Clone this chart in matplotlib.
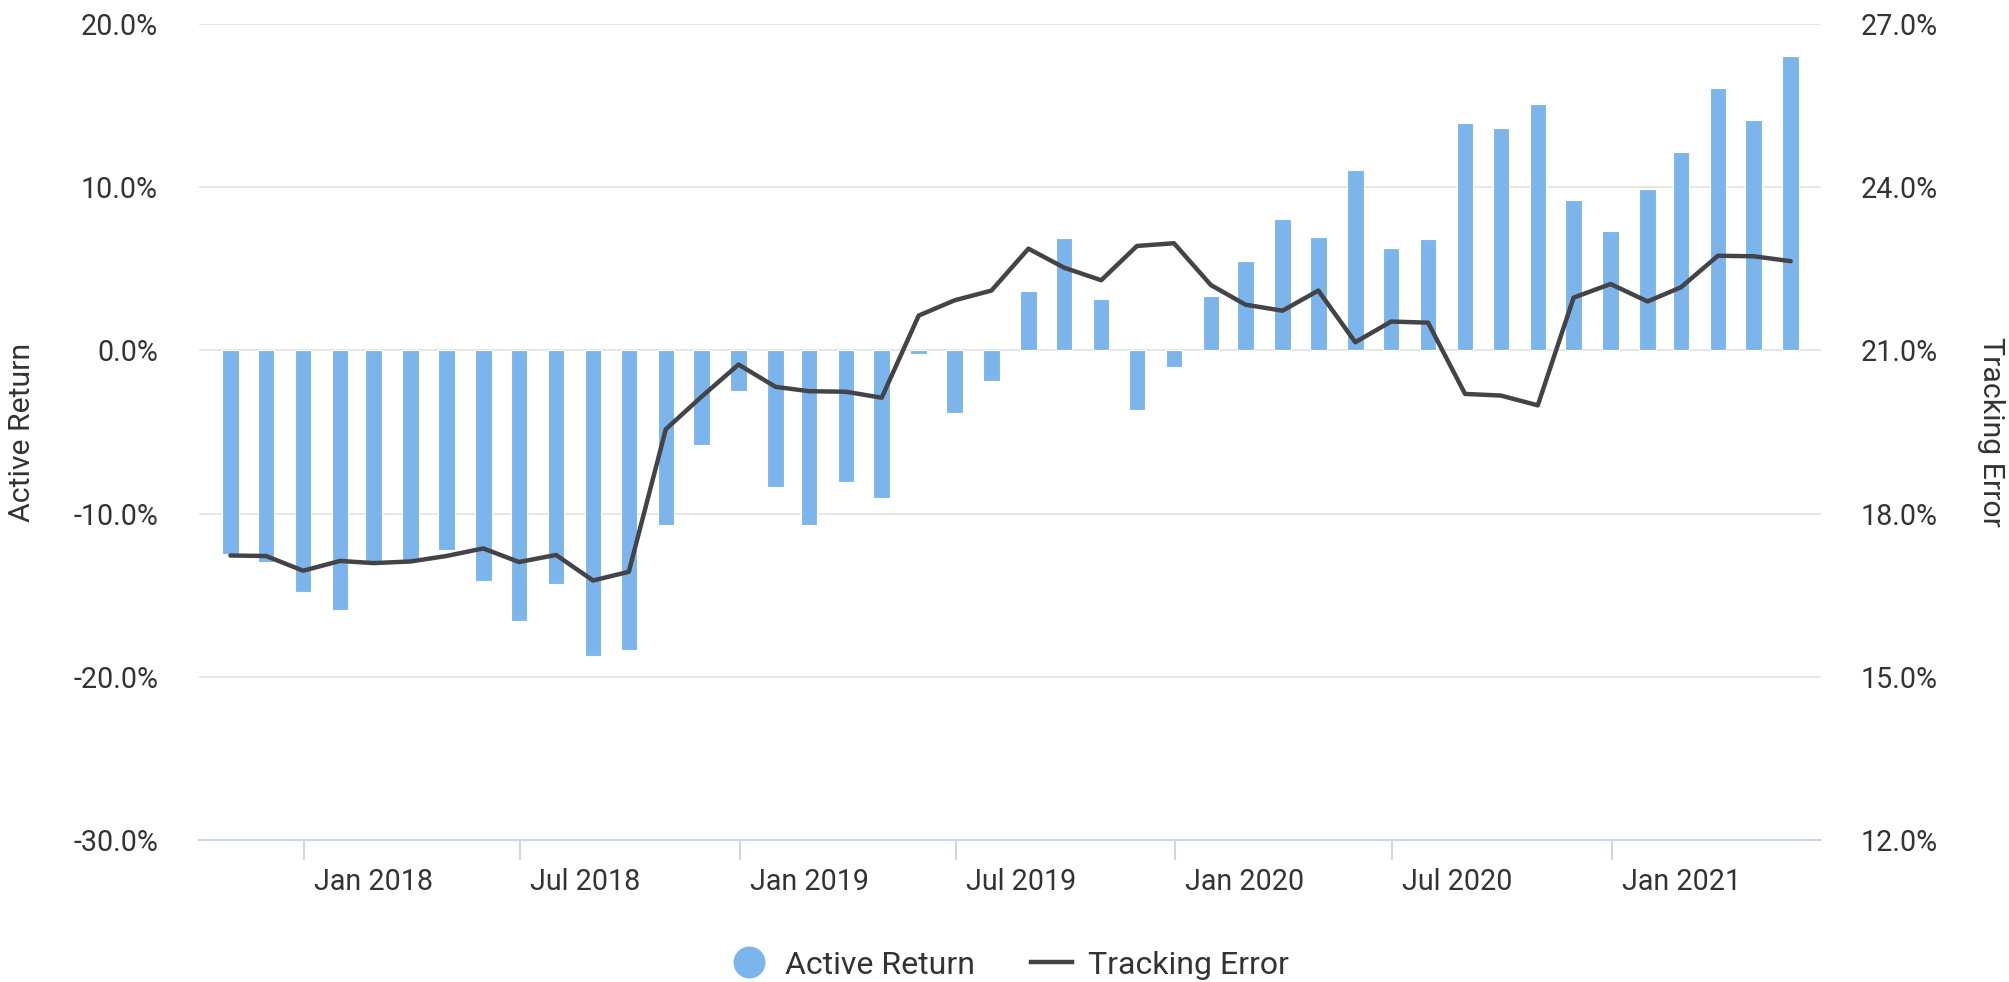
import matplotlib
matplotlib.use("Agg")
import matplotlib.pyplot as plt
import matplotlib.dates as mdates
from matplotlib.lines import Line2D
from matplotlib.transforms import ScaledTranslation
import pandas as pd

plt.rcParams['font.family'] = ['Roboto', 'DejaVu Sans']

# ---- data ----
dates = pd.date_range('2017-10-31', periods=44, freq='ME')
active_return = [-12.5, -12.96, -14.78, -15.9, -12.95, -12.9, -12.2, -14.1, -16.6, -14.3,
                 -18.7, -18.35, -10.7, -5.8, -2.5, -8.38, -10.69, -8.04, -9.04, -0.2,
                 -3.81, -1.86, 3.64, 6.9, 3.13, -3.64, -1.03, 3.33, 5.46, 8.08,
                 6.94, 11.03, 6.29, 6.8, 13.95, 13.64, 15.12, 9.24, 7.29, 9.86,
                 12.16, 16.08, 14.12, 18.04]
tracking_error = [17.23, 17.22, 16.95, 17.13, 17.09, 17.12, 17.22, 17.36, 17.11, 17.24,
                  16.77, 16.93, 19.55, 20.15, 20.74, 20.33, 20.25, 20.24, 20.13, 21.64,
                  21.92, 22.10, 22.87, 22.52, 22.29, 22.92, 22.97, 22.2, 21.84, 21.73,
                  22.10, 21.15, 21.53, 21.51, 20.2, 20.17, 19.99, 21.97, 22.22, 21.9,
                  22.16, 22.74, 22.73, 22.64]
left_ticks = [-30, -20, -10, 0, 10, 20]
right_ticks = [12, 15, 18, 21, 24, 27]

BAR_COLOR = '#7cb5ec'
LINE_COLOR = '#434348'
TEXT_COLOR = '#333333'
AXIS_COLOR = '#ccd6eb'
GRID_COLOR = '#e6e6e6'
FS = 20.6
FS_TITLE = 21.8
FS_LEG = 23

fig = plt.figure(figsize=(20.09, 9.82), dpi=100)
ax = fig.add_axes([199/2009, 1-840/982, (1821-199)/2009, (840-24)/982])
ax2 = ax.twinx()

ax.bar(dates, active_return, width=13.8, color=BAR_COLOR, edgecolor='white',
       linewidth=0.8, zorder=2)
ax2.plot(dates, tracking_error, color=LINE_COLOR, lw=3.2, solid_joinstyle='round',
         solid_capstyle='round', zorder=3)

ax.set_ylim(-30, 20)
ax2.set_ylim(12, 27)
ax.set_xlim(dates[0] - pd.Timedelta(days=26.3), dates[-1] + pd.Timedelta(days=25.4))

ax.set_yticks(left_ticks)
ax.set_yticklabels([f"{v:.1f}%" for v in left_ticks])
ax2.set_yticks(right_ticks)
ax2.set_yticklabels([f"{v:.1f}%" for v in right_ticks])

ax.yaxis.grid(True, color=GRID_COLOR, lw=1.44)
ax.set_axisbelow(True)

for a in (ax, ax2):
    for s in ('top', 'left', 'right', 'bottom'):
        a.spines[s].set_visible(False)
ax.spines['bottom'].set_visible(True)
ax.spines['bottom'].set_color(AXIS_COLOR)
ax.spines['bottom'].set_linewidth(1.44)

ax.tick_params(axis='y', length=0, pad=29.5, labelsize=FS, labelcolor=TEXT_COLOR)
ax2.tick_params(axis='y', length=0, pad=28.8, labelsize=FS, labelcolor=TEXT_COLOR)

ax.xaxis.set_major_locator(mdates.MonthLocator(bymonth=[1, 7]))
ax.xaxis.set_major_formatter(mdates.DateFormatter('%b %Y'))
ax.tick_params(axis='x', direction='out', length=14.5, width=1.44, color=AXIS_COLOR,
               pad=5.5, labelsize=FS, labelcolor=TEXT_COLOR)
offset = ScaledTranslation(10/100, 0, fig.dpi_scale_trans)
for lab in ax.get_xticklabels():
    lab.set_ha('left')
    lab.set_transform(lab.get_transform() + offset)

ymid = 1 - ((24 + 840) / 2) / 982
fig.text(22/2009, ymid, 'Active Return', rotation=90, ha='center', va='center',
         fontsize=FS_TITLE, color=TEXT_COLOR)
fig.text(1991/2009, ymid, 'Tracking Error', rotation=270, ha='center', va='center',
         fontsize=FS_TITLE, color=TEXT_COLOR)

handles = [Line2D([], [], marker='o', ls='none', markersize=22, color=BAR_COLOR),
           Line2D([], [], color=LINE_COLOR, lw=3.2)]
fig.legend(handles, ['Active Return', 'Tracking Error'], loc='center',
           bbox_to_anchor=(0.502, 1-965/982), ncol=2, frameon=False, fontsize=FS_LEG,
           handlelength=1.28, handletextpad=0.5, columnspacing=1.75,
           labelcolor=TEXT_COLOR)

fig.savefig('out.png', dpi=100)
